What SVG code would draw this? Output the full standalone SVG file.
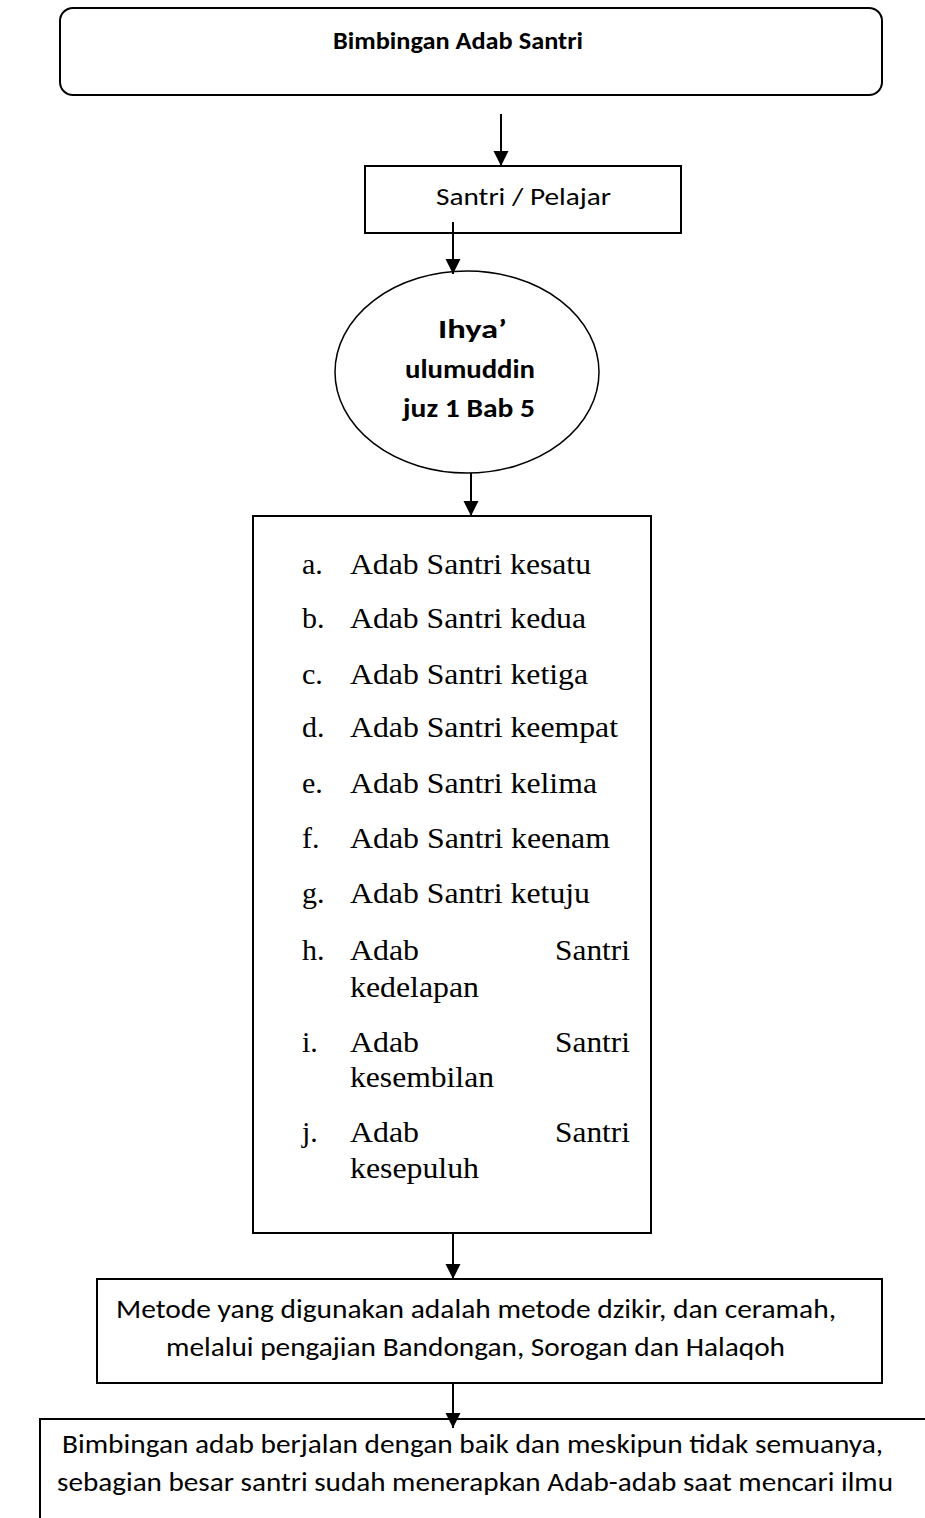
<svg xmlns="http://www.w3.org/2000/svg" width="925" height="1518" viewBox="0 0 925 1518">
<style>
.box{fill:#fff;stroke:#000;stroke-width:2}
.cal{font-family:Carlito,Lato,"Liberation Sans",sans-serif;fill:#000}
.c26{font-size:26px}
.b{font-weight:bold}
.tnr{font-family:"Liberation Serif","Times New Roman",serif;font-size:30px;fill:#000}
.conn{stroke:#000;stroke-width:2;fill:none;marker-end:url(#ah)}
</style>
<defs>
<marker id="ah" markerUnits="userSpaceOnUse" markerWidth="16" markerHeight="16" viewBox="0 0 16 16" refX="15" refY="8" orient="auto">
<path d="M0,0.5 L15,8 L0,15.5 z" fill="#000"/>
</marker>
</defs>
<rect width="925" height="1518" fill="#fff"/>
<g id="node-title">
<rect class="box" x="60" y="8" width="822" height="87" rx="13"/>
<text class="cal b" font-size="25" x="333" y="49" textLength="250" lengthAdjust="spacingAndGlyphs">Bimbingan Adab Santri</text>
</g>
<g id="node-santri">
<rect class="box" x="365" y="166" width="316" height="67"/>
<text class="cal" font-size="24" x="436" y="205" textLength="175" lengthAdjust="spacingAndGlyphs">Santri / Pelajar</text>
</g>
<g id="node-ihya">
<ellipse cx="467" cy="372" rx="132" ry="101" fill="#fff" stroke="#000" stroke-width="1.5"/>
<text class="cal b" font-size="27" x="438" y="338" textLength="69" lengthAdjust="spacingAndGlyphs">Ihya’</text>
<text class="cal b" font-size="27" x="405" y="378" textLength="130" lengthAdjust="spacingAndGlyphs">ulumuddin</text>
<text class="cal b" font-size="27" x="403" y="417" textLength="132" lengthAdjust="spacingAndGlyphs">juz 1 Bab 5</text>
</g>
<g id="node-list">
<rect class="box" x="253" y="516" width="398" height="717"/>
<text class="tnr" x="302" y="574">a.</text>
<text class="tnr" x="350" y="574" textLength="241" lengthAdjust="spacingAndGlyphs">Adab Santri kesatu</text>
<text class="tnr" x="302" y="628">b.</text>
<text class="tnr" x="350" y="628" textLength="236" lengthAdjust="spacingAndGlyphs">Adab Santri kedua</text>
<text class="tnr" x="302" y="684">c.</text>
<text class="tnr" x="350" y="684" textLength="238" lengthAdjust="spacingAndGlyphs">Adab Santri ketiga</text>
<text class="tnr" x="302" y="737">d.</text>
<text class="tnr" x="350" y="737" textLength="268" lengthAdjust="spacingAndGlyphs">Adab Santri keempat</text>
<text class="tnr" x="302" y="793">e.</text>
<text class="tnr" x="350" y="793" textLength="247" lengthAdjust="spacingAndGlyphs">Adab Santri kelima</text>
<text class="tnr" x="302" y="848">f.</text>
<text class="tnr" x="350" y="848" textLength="260" lengthAdjust="spacingAndGlyphs">Adab Santri keenam</text>
<text class="tnr" x="302" y="903">g.</text>
<text class="tnr" x="350" y="903" textLength="240" lengthAdjust="spacingAndGlyphs">Adab Santri ketuju</text>
<text class="tnr" x="302" y="960">h.</text>
<text class="tnr" x="350" y="960" textLength="69" lengthAdjust="spacingAndGlyphs">Adab</text>
<text class="tnr" x="555" y="960" textLength="75" lengthAdjust="spacingAndGlyphs">Santri</text>
<text class="tnr" x="350" y="997" textLength="129" lengthAdjust="spacingAndGlyphs">kedelapan</text>
<text class="tnr" x="302" y="1052">i.</text>
<text class="tnr" x="350" y="1052" textLength="69" lengthAdjust="spacingAndGlyphs">Adab</text>
<text class="tnr" x="555" y="1052" textLength="75" lengthAdjust="spacingAndGlyphs">Santri</text>
<text class="tnr" x="350" y="1087" textLength="144" lengthAdjust="spacingAndGlyphs">kesembilan</text>
<text class="tnr" x="302" y="1142">j.</text>
<text class="tnr" x="350" y="1142" textLength="69" lengthAdjust="spacingAndGlyphs">Adab</text>
<text class="tnr" x="555" y="1142" textLength="75" lengthAdjust="spacingAndGlyphs">Santri</text>
<text class="tnr" x="350" y="1178" textLength="129" lengthAdjust="spacingAndGlyphs">kesepuluh</text>
</g>
<g id="node-metode">
<rect class="box" x="97" y="1279" width="785" height="104"/>
<text class="cal c26" x="116" y="1318" textLength="720" lengthAdjust="spacingAndGlyphs">Metode yang digunakan adalah metode dzikir, dan ceramah,</text>
<text class="cal c26" x="166" y="1356" textLength="619" lengthAdjust="spacingAndGlyphs">melalui pengajian Bandongan, Sorogan dan Halaqoh</text>
</g>
<g id="node-hasil">
<path d="M926,1419 L40,1419 L40,1519" fill="#fff" stroke="#000" stroke-width="2"/>
<text class="cal c26" x="62" y="1453" textLength="821" lengthAdjust="spacingAndGlyphs">Bimbingan adab berjalan dengan baik dan meskipun tidak semuanya,</text>
<text class="cal c26" x="57" y="1491" textLength="836" lengthAdjust="spacingAndGlyphs">sebagian besar santri sudah menerapkan Adab-adab saat mencari ilmu</text>
</g>
<g id="connectors">
<line class="conn" x1="501" y1="114" x2="501" y2="166"/>
<line class="conn" x1="453" y1="222" x2="453" y2="274"/>
<line class="conn" x1="471" y1="473" x2="471" y2="516"/>
<line class="conn" x1="453" y1="1233" x2="453" y2="1279"/>
<line class="conn" x1="453" y1="1383" x2="453" y2="1428"/>
</g>
</svg>
